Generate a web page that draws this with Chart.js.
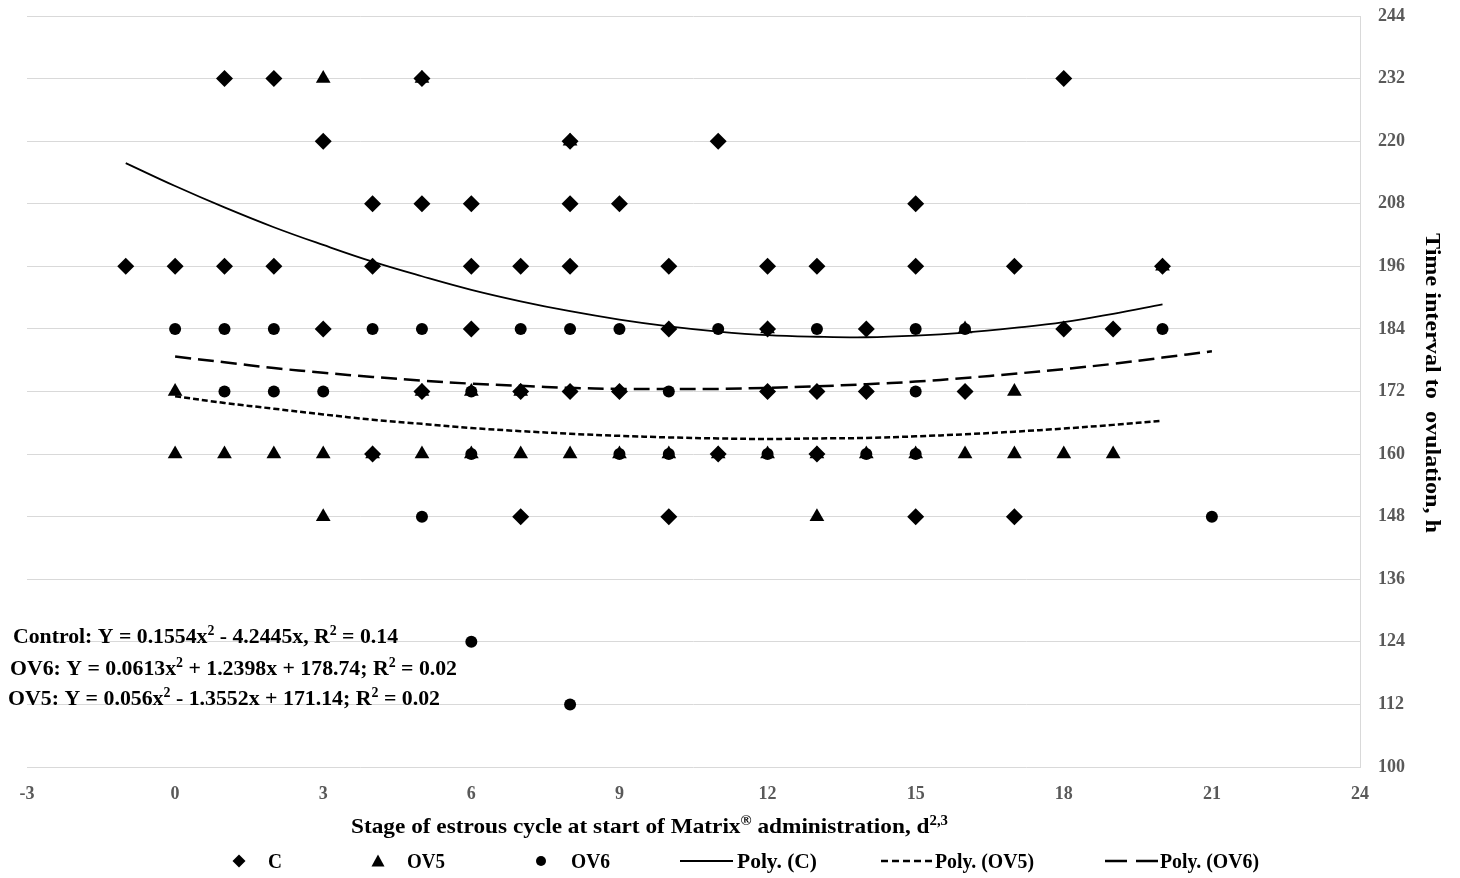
<!DOCTYPE html>
<html>
<head>
<meta charset="utf-8">
<script src="https://cdn.jsdelivr.net/npm/chart.js@4"></script>
<style>
  body { margin: 0; background: #fff; }
  #wrap { width: 1460px; height: 878px; position: relative; }
</style>
</head>
<body>
<div id="wrap"><canvas id="myChart"></canvas></div>
<script>
const SERIF = '"Liberation Serif", "Times New Roman", serif';

// observed points (day of cycle, hours to ovulation)
const cDay   = [1, 2, 5, 18, 3, 8, 11, 4, 5, 6, 8, 9, 15,
                -1, 0, 1, 2, 4, 6, 7, 8, 10, 12, 13, 15, 17, 20,
                3, 6, 10, 12, 14, 18, 19,
                5, 7, 8, 9, 12, 13, 14, 16,
                4, 11, 13, 7, 10, 15, 17];
const cHours = [232, 232, 232, 232, 220, 220, 220, 208, 208, 208, 208, 208, 208,
                196, 196, 196, 196, 196, 196, 196, 196, 196, 196, 196, 196, 196, 196,
                184, 184, 184, 184, 184, 184, 184,
                172, 172, 172, 172, 172, 172, 172, 172,
                160, 160, 160, 148, 148, 148, 148];

const ov5Day   = [3, 5, 8, 20, 12, 16, 0, 5, 6, 7, 17,
                  0, 1, 2, 3, 4, 5, 6, 7, 8, 9, 10, 11, 12, 13, 14, 15, 16, 17, 18, 19,
                  3, 13];
const ov5Hours = [232, 232, 220, 196, 184, 184, 172, 172, 172, 172, 172,
                  160, 160, 160, 160, 160, 160, 160, 160, 160, 160, 160, 160, 160, 160, 160, 160, 160, 160, 160, 160,
                  148, 148];

const ov6Day   = [0, 1, 2, 4, 5, 7, 8, 9, 11, 13, 15, 16, 20,
                  1, 2, 3, 6, 10, 15,
                  6, 9, 10, 12, 14, 15,
                  5, 21, 6, 8];
const ov6Hours = [184, 184, 184, 184, 184, 184, 184, 184, 184, 184, 184, 184, 184,
                  172, 172, 172, 172, 172, 172,
                  160, 160, 160, 160, 160, 160,
                  148, 148, 124, 112];

// trend lines at whole days
const polyCDay = [-1, 0, 1, 2, 3, 4, 5, 6, 7, 8, 9, 10, 11, 12, 13, 14, 15, 16, 17, 18, 19, 20];
const polyC    = [215.8, 211.4, 207.3, 203.5, 200.1, 196.9, 194.1, 191.5, 189.3, 187.4, 185.8,
                  184.5, 183.5, 182.8, 182.5, 182.4, 182.7, 183.3, 184.2, 185.3, 186.9, 188.7];
const polyOV5Day = [0, 1, 2, 3, 4, 5, 6, 7, 8, 9, 10, 11, 12, 13, 14, 15, 16, 17, 18, 19, 20];
const polyOV5    = [171.1, 169.8, 168.7, 167.6, 166.6, 165.8, 165.0, 164.4, 163.9, 163.5, 163.2,
                    163.0, 162.9, 163.0, 163.1, 163.4, 163.8, 164.3, 164.9, 165.6, 166.4];
const polyOV6Day = [0, 1, 2, 3, 4, 5, 6, 7, 8, 9, 10, 11, 12, 13, 14, 15, 16, 17, 18, 19, 20, 21];
const polyOV6    = [178.7, 177.6, 176.5, 175.6, 174.8, 174.1, 173.5, 173.1, 172.7, 172.5, 172.5,
                    172.5, 172.7, 173.0, 173.4, 173.9, 174.6, 175.4, 176.3, 177.3, 178.5, 179.7];

const equations = [
  [['Control: Y = 0.1554x', 0], ['2', 1], [' - 4.2445x, R', 0], ['2', 1], [' = 0.14', 0]],
  [['OV6: Y = 0.0613x', 0], ['2', 1], [' + 1.2398x + 178.74; R', 0], ['2', 1], [' = 0.02', 0]],
  [['OV5: Y = 0.056x', 0], ['2', 1], [' - 1.3552x + 171.14; R', 0], ['2', 1], [' = 0.02', 0]]
];

const pts = (xs, ys) => xs.map((x, i) => ({x: x, y: ys[i]}));

// draws bold serif text with super-scripts, squeezed to a given width
function fitText(ctx, parts, x, y, width, size) {
  ctx.save();
  let total = 0;
  const widths = parts.map(([t, sup]) => {
    ctx.font = `bold ${sup ? Math.round(size * 0.62) : size}px ${SERIF}`;
    const w = ctx.measureText(t).width;
    total += w;
    return w;
  });
  ctx.translate(x, y);
  ctx.scale(width ? width / total : 1, 1);
  ctx.fillStyle = '#000';
  ctx.textAlign = 'left';
  ctx.textBaseline = 'alphabetic';
  let cx = 0;
  parts.forEach(([t, sup], i) => {
    ctx.font = `bold ${sup ? Math.round(size * 0.62) : size}px ${SERIF}`;
    ctx.fillText(t, cx, sup ? -size * 0.36 : 0);
    cx += widths[i];
  });
  ctx.restore();
}

function marker(ctx, style, x, y, r) {
  ctx.beginPath();
  if (style === 'rectRot') {
    ctx.moveTo(x - r, y); ctx.lineTo(x, y - r); ctx.lineTo(x + r, y); ctx.lineTo(x, y + r);
  } else if (style === 'triangle') {
    ctx.moveTo(x, y - r); ctx.lineTo(x + r * 0.87, y + r * 0.6); ctx.lineTo(x - r * 0.87, y + r * 0.6);
  } else {
    ctx.arc(x, y, r, 0, Math.PI * 2);
  }
  ctx.closePath();
  ctx.fill();
}

const textPlugin = {
  id: 'texts',
  afterDraw(chart) {
    const ctx = chart.ctx;
    // regression equations
    fitText(ctx, equations[0], 13, 643, 385, 22);
    fitText(ctx, equations[1], 10, 675, 447, 22);
    fitText(ctx, equations[2], 8, 705, 432, 22);

    // x axis title
    fitText(ctx, [['Stage of estrous cycle at start of Matrix', 0], ['®', 1],
                  [' administration, d', 0], ['2,3', 1]], 351, 833, 597, 22);

    // y axis title (right side, reading downwards)
    ctx.save();
    ctx.translate(1433, 383);
    ctx.rotate(Math.PI / 2);
    fitText(ctx, [['Time interval to  ovulation, h', 0]], -150, 7, 300, 22);
    ctx.restore();

    // legend
    ctx.save();
    ctx.fillStyle = '#000';
    ctx.strokeStyle = '#000';
    const ly = 861;
    marker(ctx, 'rectRot', 239, ly, 6.5);
    marker(ctx, 'triangle', 378, ly + 1, 7.5);
    marker(ctx, 'circle', 541, ly, 5);
    const lines = [[680, 733, [], 1.8], [881, 933, [7, 4], 2.5], [1105, 1158, [22, 9], 2.5]];
    lines.forEach(([x1, x2, dash, w]) => {
      ctx.setLineDash(dash);
      ctx.lineWidth = w;
      ctx.beginPath(); ctx.moveTo(x1, ly); ctx.lineTo(x2, ly); ctx.stroke();
    });
    ctx.setLineDash([]);
    ctx.restore();
    const labels = [['C', 268, 14], ['OV5', 407, 38], ['OV6', 571, 39],
                    ['Poly. (C)', 737, 80], ['Poly. (OV5)', 935, 99], ['Poly. (OV6)', 1160, 99]];
    labels.forEach(([t, x, w]) => fitText(ctx, [[t, 0]], x, 868, w, 20));
  }
};

const ctx = document.querySelector('#myChart');

const chart = new Chart(ctx, {
  type: 'scatter',
  data: {
    datasets: [
      { label: 'Poly. (C)', type: 'line', data: pts(polyCDay, polyC), borderColor: '#000',
        borderWidth: 1.8, pointRadius: 0, tension: 0.4, fill: false },
      { label: 'Poly. (OV5)', type: 'line', data: pts(polyOV5Day, polyOV5), borderColor: '#000',
        borderWidth: 2.5, borderDash: [6, 3], pointRadius: 0, tension: 0.4, fill: false },
      { label: 'Poly. (OV6)', type: 'line', data: pts(polyOV6Day, polyOV6), borderColor: '#000',
        borderWidth: 2.5, borderDash: [16, 7], pointRadius: 0, tension: 0.4, fill: false },
      { label: 'C', data: pts(cDay, cHours), pointStyle: 'rectRot', pointRadius: 8.5,
        backgroundColor: '#000', borderColor: '#000', borderWidth: 0 },
      { label: 'OV5', data: pts(ov5Day, ov5Hours), pointStyle: 'triangle', pointRadius: 8.5,
        backgroundColor: '#000', borderColor: '#000', borderWidth: 0 },
      { label: 'OV6', data: pts(ov6Day, ov6Hours), pointStyle: 'circle', pointRadius: 6,
        backgroundColor: '#000', borderColor: '#000', borderWidth: 0 }
    ]
  },
  options: {
    responsive: true,
    maintainAspectRatio: false,
    animation: false,
    layout: { padding: { left: 27, top: 16, right: 0, bottom: 0 } },
    plugins: {
      legend: { display: false },
      tooltip: { enabled: false }
    },
    scales: {
      x: {
        type: 'linear',
        min: -3, max: 24,
        afterFit: (s) => { s.height = 111; },
        grid: { display: false },
        border: { display: false },
        ticks: { stepSize: 3, padding: 9, color: '#595959',
                 font: { family: SERIF, size: 18, weight: 'bold' } }
      },
      y: {
        position: 'right',
        min: 100, max: 244,
        afterFit: (s) => { s.width = 100; s.paddingTop = 0; s.paddingBottom = 0; },
        grid: { color: '#d9d9d9', drawTicks: false },
        border: { display: true, color: '#d9d9d9' },
        ticks: { stepSize: 12, padding: 18, color: '#595959',
                 font: { family: SERIF, size: 18, weight: 'bold' } }
      }
    }
  },
  plugins: [textPlugin]
});
</script>
</body>
</html>
